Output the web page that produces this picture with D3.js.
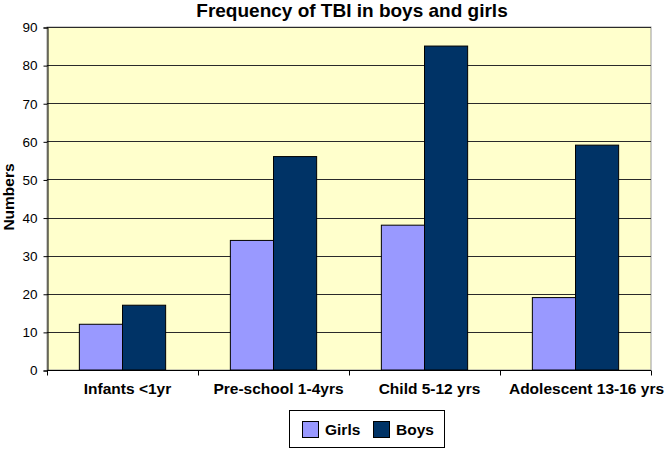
<!DOCTYPE html>
<html>
<head>
<meta charset="utf-8">
<script src="https://cdn.jsdelivr.net/npm/d3@7"></script>
<style>
  html, body { margin: 0; padding: 0; background: #ffffff; }
  svg { display: block; font-family: "Liberation Sans", Arial, sans-serif; }
</style>
</head>
<body>
<svg id="chart" width="666" height="450"></svg>
<script>
const categories = ["Infants <1yr", "Pre-school 1-4yrs", "Child 5-12 yrs", "Adolescent 13-16 yrs"];
const seriesNames = ["Girls", "Boys"];
const girls = [12, 34, 38, 19];
const boys = [17, 56, 85, 59];
const yTicks = [0, 10, 20, 30, 40, 50, 60, 70, 80, 90];
const colors = ["#9999FF", "#003366"];
const title = "Frequency of TBI in boys and girls";
const yTitle = "Numbers";

const values = [girls, boys];
const svg = d3.select("#chart");
const m = { left: 47, right: 651, top: 27, bottom: 370 };

const x = d3.scaleBand().domain(categories).range([m.left, m.right]).paddingInner(0).paddingOuter(0);
const xs = d3.scaleBand().domain(seriesNames).range([0, x.bandwidth()]).paddingInner(0).paddingOuter(0.75);
const y = d3.scaleLinear().domain([0, 90]).range([m.bottom, m.top]);

// plot background
svg.append("rect")
  .attr("x", m.left).attr("y", m.top)
  .attr("width", m.right - m.left).attr("height", m.bottom - m.top)
  .attr("fill", "#FFFFCC").attr("stroke", "#9a9a9a").attr("stroke-width", 1);

// gridlines
svg.append("g").selectAll("line").data(yTicks.filter(d => d > 0)).join("line")
  .attr("x1", m.left).attr("x2", m.right)
  .attr("y1", d => Math.round(y(d)) + 0.5).attr("y2", d => Math.round(y(d)) + 0.5)
  .attr("stroke", "#2a2a2a").attr("stroke-width", 1);

// bars
const groups = svg.append("g").selectAll("g").data(categories).join("g")
  .attr("transform", d => `translate(${x(d)},0)`);
groups.selectAll("rect").data((d, i) => seriesNames.map((s, j) => ({ s, j, v: values[j][i] }))).join("rect")
  .attr("x", d => xs(d.s))
  .attr("width", xs.bandwidth())
  .attr("y", d => y(d.v))
  .attr("height", d => y(0) - y(d.v))
  .attr("fill", d => colors[d.j])
  .attr("stroke", "#000").attr("stroke-width", 1);

// y axis
const yAxis = d3.axisLeft(y).tickValues(yTicks).tickSize(4).tickPadding(6).tickFormat(d3.format("d"));
const gy = svg.append("g").attr("transform", `translate(${m.left + 0.5},0.5)`).call(yAxis);
gy.select(".domain").attr("stroke", "#000");
gy.selectAll(".tick line").attr("stroke", "#000");
gy.selectAll("text").attr("font-size", 13.5).attr("fill", "#000").attr("font-family", "Liberation Sans, Arial, sans-serif");

// x axis
const gx = svg.append("g").attr("transform", `translate(0,${m.bottom + 0.5})`);
gx.append("line").attr("x1", m.left).attr("x2", m.right).attr("stroke", "#000");
const bounds = categories.map(c => x(c)).concat([m.right]);
gx.selectAll("line.tk").data(bounds).join("line").attr("class", "tk")
  .attr("x1", d => Math.round(d) + 0.5).attr("x2", d => Math.round(d) + 0.5)
  .attr("y1", 0).attr("y2", 5).attr("stroke", "#000");
gx.selectAll("text").data(categories).join("text")
  .attr("x", (d, i) => x(d) + x.bandwidth() / 2 + (i === categories.length - 1 ? 11 : 5))
  .attr("y", 23)
  .attr("text-anchor", "middle")
  .attr("font-size", 15.5).attr("font-weight", "bold")
  .text(d => d);

// title
svg.append("text").attr("x", 352).attr("y", 17).attr("text-anchor", "middle")
  .attr("font-size", 19).attr("font-weight", "bold").text(title);

// y title
svg.append("text").attr("transform", "translate(14,197) rotate(-90)")
  .attr("text-anchor", "middle").attr("font-size", 15.5).attr("font-weight", "bold").text(yTitle);

// legend
const lg = svg.append("g");
lg.append("rect").attr("x", 289.5).attr("y", 410.5).attr("width", 155).attr("height", 37)
  .attr("fill", "#fff").attr("stroke", "#000");
const legendX = [302, 373];
seriesNames.forEach((s, i) => {
  lg.append("rect").attr("x", legendX[i] + 0.5).attr("y", 421.5).attr("width", 16).attr("height", 16)
    .attr("fill", colors[i]).attr("stroke", "#000");
  lg.append("text").attr("x", legendX[i] + 23).attr("y", 435)
    .attr("font-size", 15.5).attr("font-weight", "bold").text(s);
});
</script>
</body>
</html>
